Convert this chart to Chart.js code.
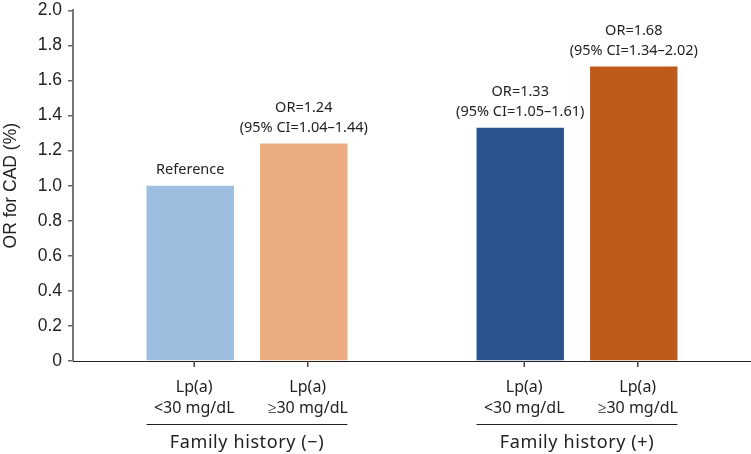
<!DOCTYPE html>
<html>
<head>
<meta charset="utf-8">
<script src="https://cdn.jsdelivr.net/npm/chart.js@4/dist/chart.umd.min.js"></script>
<style>
html,body{margin:0;padding:0;background:#fff;}
#wrap{width:751px;height:454px;position:relative;}
</style>
</head>
<body>
<div id="wrap"><canvas id="c"></canvas></div>
<script>
// ---- data ----
const groupLabels = ['Family history (\u2212)', 'Family history (+)'];
const subLabels = [['Lp(a)', '<30 mg/dL'], ['Lp(a)', '\u226530 mg/dL']];
const lowLpa = [1.00, 1.33];
const highLpa = [1.24, 1.68];
const lowNotes = [['Reference'], ['OR=1.33', '(95% CI=1.05\u20131.61)']];
const highNotes = [['OR=1.24', '(95% CI=1.04\u20131.44)'], ['OR=1.68', '(95% CI=1.34\u20132.02)']];
const yTicks = [0, 0.2, 0.4, 0.6, 0.8, 1.0, 1.2, 1.4, 1.6, 1.8, 2.0];

const lowColors = ['#9ebee0', '#2b538f'];
const highColors = ['#ecac82', '#be5a1b'];
const notes = [lowNotes, highNotes];

const labelPlugin = {
  id: 'labels',
  afterLayout(chart) {
    // inset the category scale a little inside the plot area
    const x = chart.scales.x;
    const inset = 9;
    x.left = chart.chartArea.left + inset;
    x.right = chart.chartArea.right - inset;
    x.width = x.right - x.left;
    x.configure();
  },
  afterDatasetsDraw(chart) {
    const ctx = chart.ctx;
    const area = chart.chartArea;
    ctx.save();
    // x axis line across the full plot width
    ctx.strokeStyle = '#222';
    ctx.lineWidth = 1;
    ctx.beginPath();
    ctx.moveTo(area.left, Math.round(area.bottom) + 0.5);
    ctx.lineTo(area.right, Math.round(area.bottom) + 0.5);
    ctx.stroke();

    ctx.textAlign = 'center';
    ctx.textBaseline = 'middle';
    ctx.fillStyle = '#222';
    const groups = [];
    chart.data.datasets.forEach((ds, di) => {
      const meta = chart.getDatasetMeta(di);
      meta.data.forEach((bar, i) => {
        // annotation above bar
        ctx.font = '14.5px "Noto Sans"';
        const lines = notes[di][i];
        for (let k = 0; k < lines.length; k++) {
          const off = (lines.length - 1 - k) * 20 + 16;
          ctx.fillText(lines[k], bar.x, bar.y - off);
        }
        // tick mark
        ctx.strokeStyle = '#444';
        ctx.lineWidth = 1.5;
        ctx.beginPath();
        ctx.moveTo(bar.x + 4, area.bottom);
        ctx.lineTo(bar.x + 4, area.bottom + 6);
        ctx.stroke();
        // sub labels
        ctx.font = '16px "Noto Sans"';
        ctx.fillText(subLabels[di][0], bar.x + 4, area.bottom + 26);
        ctx.fillText(subLabels[di][1], bar.x + 4, area.bottom + 47);
        const half = bar.width / 2;
        if (!groups[i]) groups[i] = {l: Infinity, r: -Infinity};
        groups[i].l = Math.min(groups[i].l, bar.x - half);
        groups[i].r = Math.max(groups[i].r, bar.x + half);
      });
    });
    groups.forEach((g, i) => {
      ctx.strokeStyle = '#222';
      ctx.lineWidth = 1;
      ctx.beginPath();
      ctx.moveTo(g.l, area.bottom + 63.5);
      ctx.lineTo(g.r, area.bottom + 63.5);
      ctx.stroke();
      ctx.font = '18px "Noto Sans"';
      ctx.letterSpacing = '0.6px';
      ctx.fillText(groupLabels[i], (g.l + g.r) / 2, area.bottom + 82);
      ctx.letterSpacing = '0px';
    });
    ctx.restore();
  }
};

new Chart(document.getElementById('c'), {
  type: 'bar',
  data: {
    labels: groupLabels,
    datasets: [
      {data: lowLpa, backgroundColor: lowColors, borderWidth: 0, categoryPercentage: 0.688, barPercentage: 0.77},
      {data: highLpa, backgroundColor: highColors, borderWidth: 0, categoryPercentage: 0.688, barPercentage: 0.77}
    ]
  },
  options: {
    responsive: true,
    maintainAspectRatio: false,
    animation: false,
    devicePixelRatio: 1,
    layout: {padding: {top: 10, right: 0, bottom: 93, left: 0}},
    plugins: {legend: {display: false}, tooltip: {enabled: false}},
    scales: {
      x: {
        grid: {display: false, drawTicks: false},
        ticks: {display: false},
        border: {display: false}
      },
      y: {
        min: 0, max: 2,
        afterBuildTicks(scale) { scale.ticks = yTicks.map(v => ({value: v})); },
        afterFit(scale) { scale.width = 73; },
        ticks: {
          padding: 6,
          color: '#222',
          font: {family: '"Liberation Sans"', size: 17.5, lineHeight: 0.5},
          callback: v => v === 0 ? '0' : v.toFixed(1)
        },
        grid: {display: true, drawOnChartArea: false, drawTicks: true, tickLength: 5, color: '#666', lineWidth: 1.5},
        border: {display: true, color: '#777', width: 2},
        title: {
          display: true,
          text: 'OR for CAD (%)',
          color: '#222',
          font: {family: '"Liberation Sans"', size: 17.5},
          padding: {top: 1, bottom: 0}
        }
      }
    }
  },
  plugins: [labelPlugin]
});
</script>
</body>
</html>
